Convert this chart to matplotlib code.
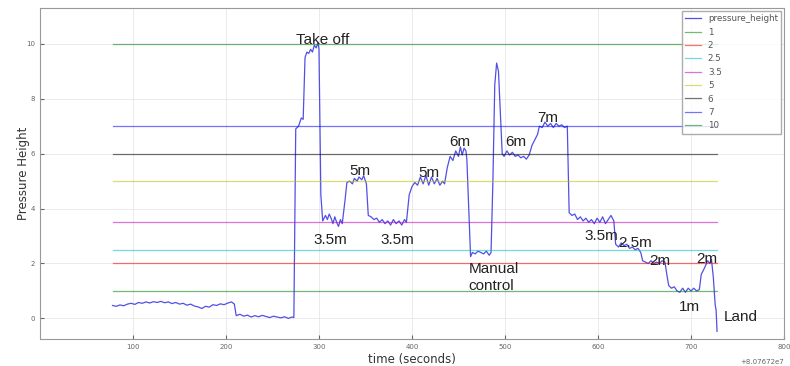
import numpy as np
import matplotlib
matplotlib.use('Agg')
import matplotlib.pyplot as plt
from matplotlib.ticker import ScalarFormatter

# time offset shown by the axis (+8.07672e7)
t0 = 80767200

# pressure_height samples (seconds after t0, metres)
times = [78, 82, 86, 90, 94, 98, 102, 106, 110, 114, 118, 122, 126, 130, 134, 138, 142, 146,
         150, 154, 158, 162, 166, 170, 174, 178, 182, 186, 190, 194, 198, 202, 206, 209,
         211, 215, 219, 223, 227, 231, 235, 239, 243, 247, 251, 255, 259, 263, 267, 271, 273,
         275, 278, 281, 283, 285, 287, 289, 291, 293, 295, 297, 299, 300,
         302, 304, 307, 309, 311, 313, 315, 317, 319, 321, 323, 325,
         328, 330, 333, 336, 338, 341, 343, 346, 348, 350, 351,
         353, 356, 359, 362, 365, 368, 371, 374, 377, 380, 383, 386, 389, 392, 394,
         397, 400, 403, 406, 409, 412, 415, 418, 421, 424, 427, 430, 433, 435,
         438, 441, 444, 447, 450, 452, 454, 456, 458, 459,
         461, 463, 465, 468, 471, 474, 477, 480, 483, 485,
         487, 489, 491, 493, 495, 497, 499, 502, 505, 508, 511, 514, 517, 520, 523, 526,
         529, 532, 535, 537, 540, 543, 546, 549, 552, 555, 558, 561, 564, 567,
         569, 572, 575, 578, 581, 584, 587, 590, 593, 596, 599, 602, 605, 608, 611, 614, 617,
         619, 622, 625, 628, 631, 634, 637, 640, 643, 646,
         648, 651, 654, 657, 660, 663, 666, 669, 672,
         674, 676, 679, 682, 685, 688, 691, 694, 697, 700, 703, 706, 709,
         711, 714, 716, 718, 720, 722, 724, 726, 727, 728]
height = [0.47, 0.44, 0.49, 0.46, 0.52, 0.55, 0.51, 0.58, 0.55, 0.60, 0.56, 0.61, 0.58, 0.62, 0.57, 0.60, 0.54, 0.58,
          0.52, 0.55, 0.48, 0.52, 0.45, 0.42, 0.36, 0.44, 0.41, 0.50, 0.47, 0.53, 0.50, 0.56, 0.60, 0.52,
          0.10, 0.15, 0.08, 0.12, 0.05, 0.10, 0.06, 0.11, 0.07, 0.03, 0.08, 0.05, 0.02, 0.06, 0.00, 0.05, 0.03,
          6.90, 7.00, 7.30, 7.25, 9.50, 9.70, 9.65, 9.80, 9.70, 9.95, 9.85, 10.05, 9.80,
          4.50, 3.55, 3.75, 3.60, 3.80, 3.65, 3.45, 3.70, 3.50, 3.35, 3.60, 3.45,
          4.30, 4.95, 5.00, 4.90, 5.10, 5.00, 5.15, 5.05, 5.20, 5.00, 4.90,
          3.75, 3.70, 3.60, 3.65, 3.50, 3.60, 3.45, 3.55, 3.40, 3.60, 3.45, 3.55, 3.40, 3.60, 3.50,
          4.50, 4.80, 4.95, 4.85, 5.15, 4.90, 5.20, 4.85, 5.15, 4.90, 5.10, 4.85, 5.00, 4.90,
          5.50, 5.90, 5.75, 6.10, 5.90, 6.25, 5.95, 6.20, 6.10, 5.80,
          4.00, 2.25, 2.40, 2.35, 2.45, 2.40, 2.35, 2.45, 2.30, 2.40,
          5.00, 8.50, 9.30, 9.00, 7.50, 6.00, 5.90, 6.10, 5.95, 6.05, 5.90, 5.95, 5.85, 5.90, 5.80, 5.95,
          6.30, 6.50, 6.70, 7.00, 6.95, 7.15, 7.00, 7.10, 6.95, 7.10, 7.00, 7.05, 6.95, 7.00,
          3.85, 3.75, 3.80, 3.60, 3.70, 3.55, 3.65, 3.50, 3.60, 3.45, 3.65, 3.50, 3.70, 3.45, 3.60, 3.75, 3.55,
          2.70, 2.60, 2.75, 2.65, 2.70, 2.55, 2.60, 2.50, 2.55, 2.40,
          2.10, 2.05, 2.00, 2.10, 2.00, 2.05, 2.00, 2.10, 2.05,
          1.60, 1.20, 1.10, 1.15, 1.00, 0.95, 1.10, 0.95, 1.10, 1.00, 1.10, 1.00, 1.05,
          1.60, 1.80, 1.95, 2.10, 2.00, 2.15, 1.50, 0.50, 0.30, -0.47]

# reference heights and their line colours (classic colour cycle)
ref_levels = ['1', '2', '2.5', '3.5', '5', '6', '7', '10']
ref_colors = ['g', 'r', 'c', 'm', 'y', 'k', 'b', 'g']

# annotations: text, time, height
notes = [('Take off', 304, 10.15), ('5m', 344, 5.35), ('3.5m', 312, 2.87),
         ('3.5m', 384, 2.87), ('5m', 418, 5.3), ('6m', 451, 6.44),
         ('6m', 512, 6.44), ('7m', 546, 7.3), ('3.5m', 604, 3.0),
         ('2.5m', 640, 2.73), ('2m', 666, 2.1), ('2m', 717, 2.15),
         ('1m', 698, 0.4), ('Land', 754, 0.04)]

fig = plt.figure(figsize=(7.9, 3.66), dpi=100)
ax = fig.add_axes([0.0506, 0.0738, 0.9418, 0.904])

t = t0 + np.array(times, dtype=float)
ax.plot(t, height, color='#5050e6', lw=0.9, label='pressure_height')
for lev, col in zip(ref_levels, ref_colors):
    v = float(lev)
    ax.plot([t[0], t[-1]], [v, v], color=col, lw=0.9, alpha=0.55, label=lev)

for txt, x, y in notes:
    ax.text(t0 + x, y, txt, ha='center', va='center', fontsize=11,
            family='Liberation Sans', color='#222222')
ax.text(t0 + 461, 1.49, 'Manual\ncontrol', ha='left', va='center', fontsize=11,
        family='Liberation Sans', color='#222222', linespacing=1.25)

ax.set_xlim(t0, t0 + 800)
ax.set_ylim(-0.75, 11.3)
ax.set_yticks([0, 2, 4, 6, 8, 10])
fmt = ScalarFormatter(useOffset=t0)
ax.xaxis.set_major_formatter(fmt)
ax.set_xticks(t0 + np.arange(100, 801, 100))
ax.tick_params(labelsize=5, colors='#666666', length=3, direction='in')
ax.xaxis.get_offset_text().set_visible(False)
fig.text(0.992, 1 - 362 / 366, '+8.07672e7', ha='right', va='center', fontsize=5, color='#666666')
ax.grid(True, color='#e6e6e6', lw=0.6)
for s in ax.spines.values():
    s.set_color('#999999')

ax.set_xlabel('time (seconds)', fontsize=8.5, color='#333333', labelpad=2)
ax.set_ylabel('Pressure Height', fontsize=8.5, color='#333333')
ax.yaxis.set_label_coords(-0.013, 0.5)

leg = ax.legend(loc='upper right', fontsize=6.3, labelspacing=0.5, handlelength=1.8,
                borderaxespad=0.3, fancybox=False)
leg.get_frame().set_edgecolor('#999999')
for txt in leg.get_texts():
    txt.set_color('#555555')

fig.savefig('out.png', dpi=100)
